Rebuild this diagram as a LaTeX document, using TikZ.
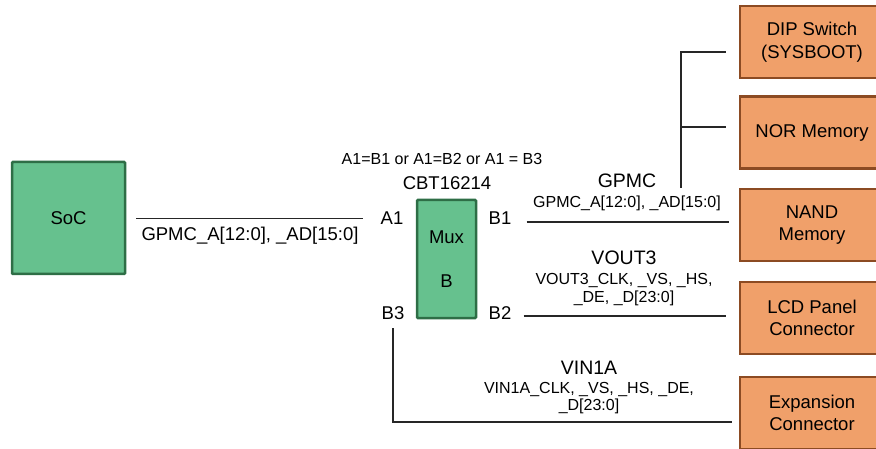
\documentclass[tikz,border=0pt]{standalone}
\usepackage{fontspec}
\setmainfont{Liberation Sans}
\usepackage{xcolor}
\usetikzlibrary{positioning,calc}
\definecolor{socgreen}{HTML}{66C18E}
\definecolor{socedge}{HTML}{2E6E46}
\definecolor{periph}{HTML}{F0A06A}
\definecolor{periphedge}{HTML}{8C4B23}
\newcommand{\mainfs}{\fontsize{18.5}{22.5}\selectfont}
\newcommand{\smallfs}{\fontsize{16}{17.5}\selectfont}
\newcommand{\busfs}{\fontsize{19.5}{23}\selectfont}
\tikzset{
  chip/.style={draw=socedge,fill=socgreen,line width=2.5pt,rounded corners=1pt,
               align=center,font=\mainfs},            % SoC / mux: green
  dev/.style={draw=periphedge,fill=periph,line width=2.5pt,minimum width=144pt,
              minimum height=72pt,align=center,font=\mainfs}, % peripherals: orange
  pin/.style={inner sep=0pt,font=\mainfs},
  sig/.style={inner sep=0pt,align=center,font=\smallfs},
  bus/.style={inner sep=0pt,font=\busfs},
  wire/.style={line width=1.3pt,black!85}
}

\begin{document}
\begin{tikzpicture}[x=1pt,y=-1pt]
  \useasboundingbox (0,0) rectangle (876,449);
  % SoC and the mux
  \node[chip,minimum width=113pt,minimum height=112pt] (soc) at (68.5,218) {SoC};
  \node[chip,minimum width=59pt,minimum height=118pt] (mux) at (446.5,259) {Mux\\[21pt]B};
  \node[sig] (mode) at (442,159) {A1=B1 or A1=B2 or A1 = B3};
  \node[pin] (part) at (447,183) {CBT16214};
  \node[pin] (pa1) at (392,218.5) {A1};
  \node[pin] (pb1) at (500,218.5) {B1};
  \node[pin] (pb3) at (393,313.5) {B3};
  \node[pin] (pb2) at (500,313.5) {B2};
  % peripherals
  \node[dev] (dip)  at (812,42)    {DIP Switch\\(SYSBOOT)};
  \node[dev] (nor)  at (812,132.5) {NOR Memory};
  \node[dev] (nand) at (812,225)   {NAND\\Memory};
  \node[dev] (lcd)  at (812,318)   {LCD Panel\\Connector};
  \node[dev] (exp)  at (812,413)   {Expansion\\Connector};
  % SoC -> A1
  \draw[wire,shorten <=10pt,shorten >=17pt] (soc.east |- pa1) -- (pa1.west);
  \node[pin] (socbus) at (250,236) {GPMC\_A[12:0], \_AD[15:0]};
  % B1 -> GPMC devices
  \draw[wire,shorten <=15pt,shorten >=10pt] ([yshift=3pt]nand.west -| pb1.east) -- ([yshift=3pt]nand.west);
  \coordinate (gtap) at (681,188);
  \draw[wire,shorten >=13pt] (gtap) |- ([yshift=-10pt]dip.west);
  \draw[wire,shorten >=13pt] ([yshift=5.5pt]nor.west -| gtap) -- ([yshift=5.5pt]nor.west);
  \node[bus] (gpmc) at (627,181) {GPMC};
  \node[sig] (gpmcsig) at (627,203) {GPMC\_A[12:0], \_AD[15:0]};
  % B2 -> LCD
  \draw[wire,shorten <=12pt,shorten >=13pt] ([yshift=2pt]lcd.west -| pb2.east) -- ([yshift=2pt]lcd.west);
  \node[bus] (vout) at (624,258) {VOUT3};
  \node[sig] (voutsig) at (624,289.5) {VOUT3\_CLK, \_VS, \_HS,\\\_DE, \_D[23:0]};
  % B3 -> expansion
  \draw[wire,shorten <=8pt,shorten >=7pt] (pb3.south) |- ([yshift=-9pt]exp.west);
  \node[bus] (vin) at (589,368) {VIN1A};
  \node[sig] (vinsig) at (589,398) {VIN1A\_CLK, \_VS, \_HS, \_DE,\\\_D[23:0]};
\end{tikzpicture}
\end{document}
